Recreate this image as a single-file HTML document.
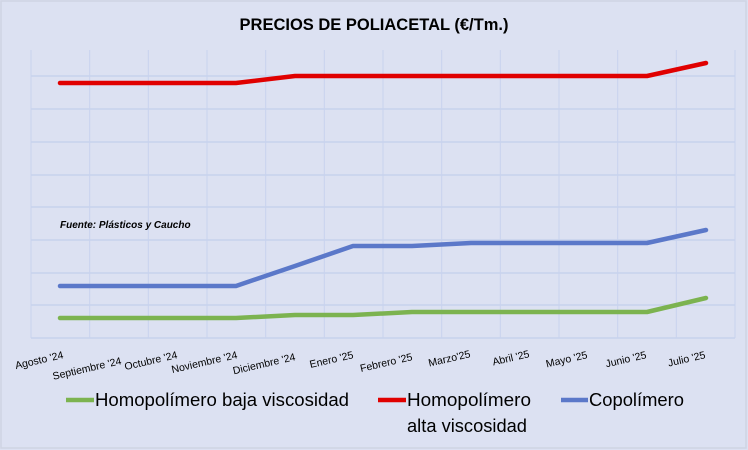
<!DOCTYPE html>
<html><head><meta charset="utf-8"><style>
html,body{margin:0;padding:0;background:#dce1f2;}
svg{display:block;font-family:"Liberation Sans",sans-serif;}
</style></head><body>
<svg width="748" height="450" viewBox="0 0 748 450" xmlns="http://www.w3.org/2000/svg">
<rect x="0" y="0" width="748" height="450" fill="#dce1f2"/>
<rect x="1" y="1" width="745" height="447" fill="none" stroke="#cfd4e3" stroke-width="1.5"/>
<text x="374" y="30" text-anchor="middle" font-size="16.5" font-weight="bold" fill="#000">PRECIOS DE POLIACETAL (€/Tm.)</text>
<g stroke="#bccaea" stroke-width="1">
<line x1="31" y1="76" x2="735" y2="76"/>
<line x1="31" y1="109" x2="735" y2="109"/>
<line x1="31" y1="142" x2="735" y2="142"/>
<line x1="31" y1="175" x2="735" y2="175"/>
<line x1="31" y1="207" x2="735" y2="207"/>
<line x1="31" y1="240" x2="735" y2="240"/>
<line x1="31" y1="273" x2="735" y2="273"/>
<line x1="31" y1="305" x2="735" y2="305"/>
<line x1="31" y1="338" x2="735" y2="338"/>
</g>
<g stroke="#c8d2ee" stroke-width="1">
<line x1="31" y1="50" x2="31" y2="338"/>
<line x1="89.7" y1="50" x2="89.7" y2="338"/>
<line x1="148.3" y1="50" x2="148.3" y2="338"/>
<line x1="207" y1="50" x2="207" y2="338"/>
<line x1="265.7" y1="50" x2="265.7" y2="338"/>
<line x1="324.3" y1="50" x2="324.3" y2="338"/>
<line x1="383" y1="50" x2="383" y2="338"/>
<line x1="441.7" y1="50" x2="441.7" y2="338"/>
<line x1="500.3" y1="50" x2="500.3" y2="338"/>
<line x1="559" y1="50" x2="559" y2="338"/>
<line x1="617.7" y1="50" x2="617.7" y2="338"/>
<line x1="676.3" y1="50" x2="676.3" y2="338"/>
<line x1="735" y1="50" x2="735" y2="338"/>
</g>
<text x="60" y="228" font-size="10" font-weight="bold" font-style="italic" fill="#000">Fuente: Plásticos y Caucho</text>
<g fill="none" stroke-width="4.5" stroke-linecap="round" stroke-linejoin="round">
<polyline stroke="#e00000" points="60,83 119,83 177,83 236,83 295,76 353,76 412,76 471,76 529,76 588,76 647,76 706,63"/>
<polyline stroke="#5b78c9" points="60,286 119,286 177,286 236,286 295,266 353,246 412,246 471,243 529,243 588,243 647,243 706,230"/>
<polyline stroke="#7cb350" points="60,318 119,318 177,318 236,318 295,315 353,315 412,312 471,312 529,312 588,312 647,312 706,298"/>
</g>
<g font-size="10.5" fill="#000" text-anchor="end">
<text transform="translate(64,358) rotate(-13)">Agosto '24</text>
<text transform="translate(122,364) rotate(-13)">Septiembre '24</text>
<text transform="translate(178,358) rotate(-13)">Octubre '24</text>
<text transform="translate(238,358) rotate(-13)">Noviembre '24</text>
<text transform="translate(296,360) rotate(-13)">Diciembre '24</text>
<text transform="translate(354,358) rotate(-13)">Enero '25</text>
<text transform="translate(413,360) rotate(-13)">Febrero '25</text>
<text transform="translate(471,357) rotate(-13)">Marzo'25</text>
<text transform="translate(530,357) rotate(-13)">Abril '25</text>
<text transform="translate(588,358) rotate(-13)">Mayo '25</text>
<text transform="translate(647,358) rotate(-13)">Junio '25</text>
<text transform="translate(706,358) rotate(-13)">Julio '25</text>
</g>
<g font-size="18" fill="#000">
<line x1="66" y1="400" x2="94" y2="400" stroke="#7cb350" stroke-width="4.5"/>
<text x="95" y="406" textLength="254" lengthAdjust="spacingAndGlyphs">Homopolímero baja viscosidad</text>
<line x1="378" y1="400" x2="406" y2="400" stroke="#e00000" stroke-width="4.5"/>
<text x="407" y="406" textLength="124" lengthAdjust="spacingAndGlyphs">Homopolímero</text>
<text x="407" y="432" textLength="120" lengthAdjust="spacingAndGlyphs">alta viscosidad</text>
<line x1="561" y1="400" x2="588" y2="400" stroke="#5b78c9" stroke-width="4.5"/>
<text x="589" y="406" textLength="95" lengthAdjust="spacingAndGlyphs">Copolímero</text>
</g>
</svg>
</body></html>
